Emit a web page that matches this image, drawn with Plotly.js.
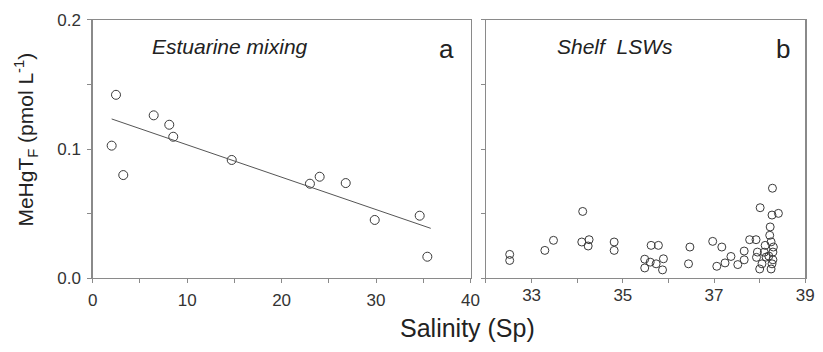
<!DOCTYPE html>
<html>
<head>
<meta charset="utf-8">
<script src="https://cdn.plot.ly/plotly-3.0.1.min.js"></script>
<style>
  html, body { margin: 0; padding: 0; background: #fff; }
  #chart { width: 823px; height: 352px; }
</style>
</head>
<body>
<div id="chart"></div>
<script>
// Panel a: estuarine mixing (salinity vs filtered MeHgT)
const estSalinity = [2.01, 2.47, 3.24, 6.46, 8.11, 8.53, 14.72, 23.0, 24.03, 26.79, 29.86, 34.62, 35.43];
const estMeHg      = [0.1026, 0.142, 0.0798, 0.1261, 0.1188, 0.1095, 0.0915, 0.0731, 0.0785, 0.0736, 0.045, 0.0483, 0.0165];

// Linear mixing fit drawn across the estuarine samples
const fitSalinity = [2.01, 35.79];
const fitMeHg     = [0.1233, 0.0385];

// Panel b: shelf low-salinity waters
const shelfSalinity = [
  32.52, 32.52, 33.29, 33.48, 34.12, 34.10, 34.26, 34.24, 34.81, 34.81,
  35.48, 35.48, 35.62, 35.60, 35.78, 35.89, 35.87, 35.73, 36.47, 36.44,
  36.97, 37.17, 37.06, 37.24, 37.37, 37.52, 37.66, 37.66, 37.78, 37.92,
  37.95, 38.00, 38.01, 38.05, 38.12, 38.14, 38.22, 38.23, 38.25, 38.27,
  38.28, 38.29, 38.29, 38.30, 38.41, 38.27, 38.20, 38.25, 37.93, 38.10
];
const shelfMeHg = [
  0.0183, 0.0136, 0.0214, 0.0292, 0.0516, 0.0279, 0.0297, 0.0248, 0.0279, 0.0214,
  0.0146, 0.0078, 0.0253, 0.0123, 0.0253, 0.0149, 0.0063, 0.0110, 0.0240, 0.0110,
  0.0284, 0.0240, 0.0091, 0.0117, 0.0167, 0.0104, 0.0209, 0.0141, 0.0297, 0.0297,
  0.0201, 0.0070, 0.0545, 0.0110, 0.0253, 0.0162, 0.0331, 0.0396, 0.0070, 0.0488,
  0.0696, 0.0201, 0.0141, 0.0240, 0.0501, 0.0110, 0.0170, 0.0280, 0.0160, 0.0200
];

// Axis ticks and labels
const yTickVals   = [0, 0.05, 0.1, 0.15, 0.2];
const yTickText   = ['0.0', '', '0.1', '', '0.2'];
const xaTickVals  = [0, 5, 10, 15, 20, 25, 30, 35, 40];
const xaTickText  = ['0', '', '10', '', '20', '', '30', '', '40'];
const xbTickVals  = [32, 33, 34, 35, 36, 37, 38, 39];
const xbTickText  = ['', '33', '', '35', '', '37', '', '39'];

const FONT = 'Liberation Sans, Arial, sans-serif';
const AXIS_GREY = '#8a8a8a';
const TEXT = '#222';

const markerStyle = { symbol: 'circle-open', size: 9, color: '#3a3a3a', line: { width: 1, color: '#3a3a3a' } };

const traces = [
  { x: estSalinity, y: estMeHg, type: 'scatter', mode: 'markers',
    marker: markerStyle, xaxis: 'x', yaxis: 'y', hoverinfo: 'x+y' },
  { x: fitSalinity, y: fitMeHg, type: 'scatter', mode: 'lines',
    line: { color: '#555', width: 1 }, xaxis: 'x', yaxis: 'y', hoverinfo: 'skip' },
  { x: shelfSalinity, y: shelfMeHg, type: 'scatter', mode: 'markers',
    marker: Object.assign({}, markerStyle, { size: 8 }), xaxis: 'x2', yaxis: 'y2', hoverinfo: 'x+y' }
];

const axisBase = {
  showline: true, mirror: true, linecolor: AXIS_GREY, linewidth: 1.3,
  showgrid: false, zeroline: false, ticks: 'outside', ticklen: 4,
  tickcolor: AXIS_GREY, tickwidth: 1, tickmode: 'array',
  tickfont: { family: FONT, size: 17, color: '#333' }
};

const yDomain = [0.2102, 0.9432];

const layout = {
  width: 823, height: 352,
  margin: { l: 0, r: 0, t: 0, b: 0 },
  paper_bgcolor: '#fff', plot_bgcolor: '#fff',
  showlegend: false,
  font: { family: FONT, color: TEXT },
  xaxis: Object.assign({}, axisBase, {
    domain: [0.1126, 0.5717], range: [0, 40],
    tickvals: xaTickVals, ticktext: xaTickText, anchor: 'y', ticklabelstandoff: 2
  }),
  yaxis: Object.assign({}, axisBase, {
    domain: yDomain, range: [0, 0.2],
    tickvals: yTickVals, ticktext: yTickText, anchor: 'x', ticklabelstandoff: 3
  }),
  xaxis2: Object.assign({}, axisBase, {
    domain: [0.5905, 0.9785], range: [32, 39],
    tickvals: xbTickVals, ticktext: xbTickText, anchor: 'y2', ticklabelstandoff: -3
  }),
  yaxis2: Object.assign({}, axisBase, {
    domain: yDomain, range: [0, 0.2],
    tickvals: yTickVals, showticklabels: false, anchor: 'x2'
  }),
  annotations: [
    { text: '<i>Estuarine mixing</i>', x: 0.2789, y: 0.8673, xref: 'paper', yref: 'paper',
      xanchor: 'center', yanchor: 'middle', showarrow: false,
      font: { family: FONT, size: 21, color: TEXT } },
    { text: '<i>Shelf\u00a0 LSWs</i>', x: 0.7467, y: 0.8673, xref: 'paper', yref: 'paper',
      xanchor: 'center', yanchor: 'middle', showarrow: false,
      font: { family: FONT, size: 21, color: TEXT } },
    { text: 'a', x: 0.5423, y: 0.862, xref: 'paper', yref: 'paper',
      xanchor: 'center', yanchor: 'middle', showarrow: false,
      font: { family: FONT, size: 26, color: TEXT } },
    { text: 'b', x: 0.951, y: 0.862, xref: 'paper', yref: 'paper',
      xanchor: 'center', yanchor: 'middle', showarrow: false,
      font: { family: FONT, size: 26, color: TEXT } },
    { text: 'MeHgT<sub>F</sub> (pmol L<sup>-1</sup>)', x: 0.031, y: 0.602,
      xref: 'paper', yref: 'paper', xanchor: 'center', yanchor: 'middle',
      textangle: -90, showarrow: false,
      font: { family: FONT, size: 21, color: TEXT } },
    { text: 'Salinity (Sp)', x: 0.568, y: 0.068, xref: 'paper', yref: 'paper',
      xanchor: 'center', yanchor: 'middle', showarrow: false,
      font: { family: FONT, size: 25, color: TEXT } }
  ]
};

Plotly.newPlot('chart', traces, layout, { staticPlot: true, displayModeBar: false });
</script>
</body>
</html>
